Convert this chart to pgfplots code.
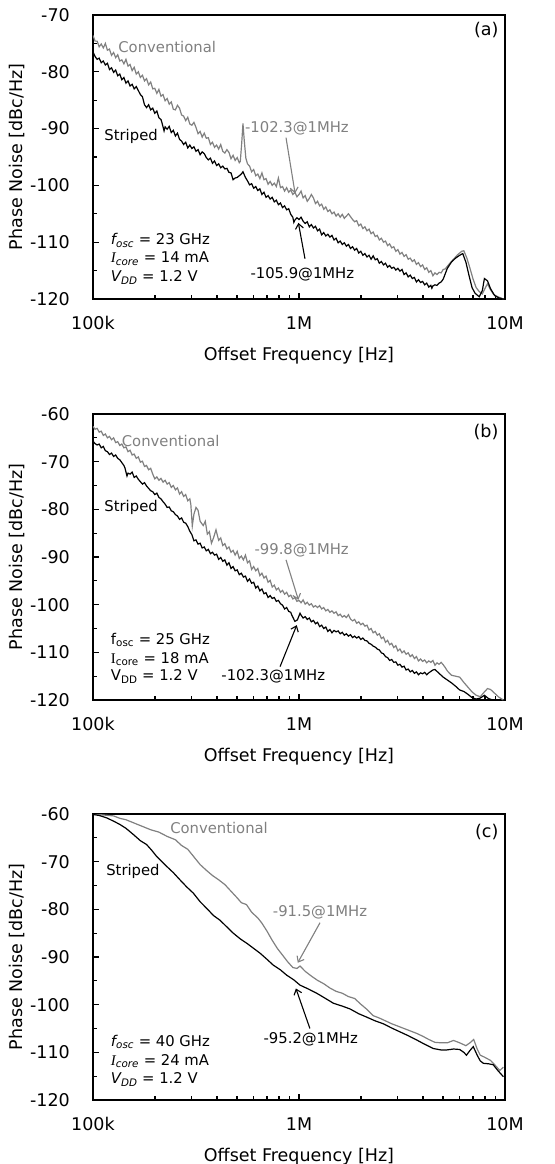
\documentclass[border=0pt]{standalone}
\usepackage{fontspec}
\setmainfont{DejaVu Sans}
\newfontfamily\serifI{Liberation Serif}
\usepackage{pgfplots}
\pgfplotsset{compat=1.18}
\usetikzlibrary{arrows.meta}
\definecolor{cgray}{RGB}{128,128,128}
\newcommand{\lab}{\fontsize{17.5}{21}\selectfont}
\newcommand{\ann}{\fontsize{14.8}{17}\selectfont}
\pgfplotsset{pnaxis/.style={
  scale only axis, width=412pt, xmin=5, xmax=7,
  xtick={5,6,7}, xticklabels={100k,1M,10M},
  minor xtick={5.30103,5.47712,5.60206,5.69897,5.77815,5.84510,5.90309,5.95424,6.30103,6.47712,6.60206,6.69897,6.77815,6.84510,6.90309,6.95424},
  tick align=inside, xtick pos=bottom, ytick pos=left,
  major tick length=6pt, minor tick length=4pt,
  tick style={black, line width=1.2pt},
  axis line style={line width=2.7pt, black},
  every tick label/.append style={font=\lab},
  xticklabel style={anchor=center, yshift=-24pt},
  yticklabel style={anchor=east, inner sep=0pt, xshift=-23pt},
  every axis x label/.style={at={(axis description cs:0.5,0)}, anchor=center, yshift=-57pt, font=\lab},
  every axis y label/.style={at={(axis description cs:-0.1845,0.5)}, rotate=90, anchor=center, font=\lab},
  xlabel={Offset Frequency [Hz]},
  ylabel={Phase Noise [dBc/Hz]},
  conv/.style={cgray, line width=1.2pt},
  strp/.style={black, line width=1.2pt},
}}
\begin{document}
\begin{tikzpicture}
\useasboundingbox (0pt,0pt) rectangle (554pt,-1164pt);
% ---------------- (a)
\begin{axis}[pnaxis, at={(93pt,-299pt)}, anchor=south west, height=284pt,
  ymin=-120, ymax=-70, ytick={-120,-110,-100,-90,-80,-70},
  yticklabels={-120,-110,-100,-90,-80,-70},
  minor ytick={-115,-105,-95,-85,-75}]
\addplot[conv] coordinates {
(5.00,-73.6)(5.01,-74.6)(5.02,-74.6)(5.03,-75.6)(5.04,-75.1)(5.05,-75.8)(5.06,-75.0)(5.07,-76.2)(5.08,-76.0)(5.09,-77.1)
(5.10,-76.6)(5.11,-77.5)(5.12,-77.0)(5.13,-78.1)(5.14,-77.9)(5.15,-78.6)(5.16,-77.8)(5.17,-79.0)(5.18,-78.7)(5.19,-79.8)
(5.20,-79.2)(5.21,-80.4)(5.22,-80.0)(5.23,-81.0)(5.24,-80.6)(5.25,-81.6)(5.26,-81.2)(5.27,-82.3)(5.28,-81.8)(5.29,-83.0)
(5.30,-82.9)(5.31,-83.8)(5.32,-83.1)(5.33,-84.3)(5.34,-84.0)(5.35,-85.1)(5.36,-84.7)(5.37,-85.7)(5.38,-85.3)(5.39,-86.6)
(5.40,-86.7)(5.41,-85.9)(5.42,-86.4)(5.43,-87.6)(5.44,-87.8)(5.45,-88.6)(5.46,-88.0)(5.47,-89.2)(5.48,-89.4)(5.49,-88.9)
(5.50,-89.8)(5.51,-90.9)(5.52,-90.5)(5.53,-91.5)(5.54,-90.8)(5.55,-91.7)(5.56,-91.6)(5.57,-92.8)(5.58,-92.4)(5.59,-93.3)
(5.60,-92.9)(5.61,-93.6)(5.62,-92.8)(5.63,-94.0)(5.64,-94.3)(5.65,-93.7)(5.66,-94.2)(5.67,-95.3)(5.68,-94.7)(5.69,-95.6)
(5.70,-95.1)(5.71,-96.0)(5.715,-95.8)(5.722,-92.5)(5.728,-89.1)(5.734,-92.0)(5.742,-95.2)(5.75,-96.2)(5.76,-96.6)(5.77,-97.6)
(5.78,-97.2)(5.79,-98.3)(5.80,-98.0)(5.81,-98.8)(5.82,-97.8)(5.83,-99.0)(5.84,-98.8)(5.85,-99.8)(5.86,-99.3)(5.87,-100.0)
(5.88,-99.6)(5.89,-100.2)(5.90,-98.7)(5.91,-100.4)(5.92,-100.2)(5.93,-101.0)(5.94,-100.4)(5.95,-101.2)(5.96,-100.8)(5.97,-101.6)
(5.98,-101.2)(5.99,-102.0)(6.00,-101.6)(6.01,-101.0)(6.02,-102.2)(6.03,-101.8)(6.04,-102.8)(6.05,-102.3)(6.06,-101.6)(6.07,-102.2)
(6.08,-103.2)(6.09,-102.8)(6.10,-103.6)(6.11,-103.3)(6.12,-104.2)(6.13,-103.8)(6.14,-104.6)(6.15,-104.3)(6.16,-105.0)(6.17,-104.7)
(6.18,-105.4)(6.19,-105.0)(6.20,-105.6)(6.21,-105.1)(6.22,-105.8)(6.23,-105.4)(6.24,-105.0)(6.25,-105.5)(6.26,-106.0)(6.27,-106.4)
(6.28,-106.2)(6.29,-107.1)(6.30,-106.8)(6.31,-107.6)(6.32,-107.3)(6.33,-108.0)(6.34,-107.7)(6.35,-108.5)(6.36,-108.2)(6.37,-109.0)
(6.38,-108.8)(6.39,-109.6)(6.40,-109.3)(6.41,-110.0)(6.42,-109.8)(6.43,-110.6)(6.44,-110.3)(6.45,-111.0)(6.46,-110.8)(6.47,-111.6)
(6.48,-111.3)(6.49,-112.1)(6.50,-111.8)(6.51,-112.5)(6.52,-112.2)(6.53,-113.0)(6.54,-112.8)(6.55,-113.4)(6.56,-113.1)(6.57,-113.9)
(6.58,-113.6)(6.59,-114.3)(6.60,-114.0)(6.61,-114.8)(6.62,-114.5)(6.63,-115.3)(6.64,-115.0)(6.65,-115.9)(6.66,-115.4)(6.67,-115.7)
(6.68,-115.3)(6.69,-115.4)(6.70,-114.8)(6.71,-114.7)(6.730,-113.8)(6.750,-113.0)(6.770,-112.2)(6.790,-111.6)(6.800,-111.5)(6.815,-112.8)
(6.830,-114.6)(6.845,-116.5)(6.860,-118.0)(6.875,-118.7)(6.890,-119.1)(6.905,-118.0)(6.915,-117.3)(6.930,-118.4)(6.945,-119.2)(6.965,-119.6)
(6.992,-120.0)};
\addplot[strp] coordinates {
(5.00,-76.5)(5.01,-77.3)(5.02,-77.8)(5.03,-77.6)(5.04,-78.4)(5.05,-78.1)(5.06,-78.8)(5.07,-78.5)(5.08,-79.6)(5.09,-79.3)
(5.10,-80.1)(5.11,-79.7)(5.12,-80.7)(5.13,-80.4)(5.14,-81.4)(5.15,-81.0)(5.16,-82.0)(5.17,-81.6)(5.18,-82.5)(5.19,-82.2)
(5.20,-83.0)(5.21,-82.6)(5.22,-83.3)(5.23,-84.0)(5.24,-84.4)(5.25,-85.8)(5.26,-86.3)(5.27,-85.8)(5.28,-86.7)(5.29,-86.4)
(5.30,-87.3)(5.31,-86.9)(5.32,-88.1)(5.33,-88.4)(5.335,-89.0)(5.345,-90.4)(5.35,-89.7)(5.36,-90.1)(5.37,-89.6)(5.38,-90.7)
(5.39,-90.3)(5.40,-91.3)(5.41,-90.8)(5.42,-91.9)(5.43,-92.2)(5.44,-92.8)(5.45,-92.4)(5.46,-93.4)(5.47,-92.9)(5.48,-93.5)
(5.49,-93.2)(5.50,-94.0)(5.51,-93.7)(5.52,-94.6)(5.53,-94.1)(5.54,-94.4)(5.55,-95.1)(5.56,-95.5)(5.57,-95.2)(5.58,-96.1)
(5.59,-95.7)(5.60,-96.5)(5.61,-96.2)(5.62,-96.9)(5.63,-96.6)(5.64,-97.1)(5.65,-97.0)(5.66,-97.7)(5.67,-97.8)(5.68,-99.0)
(5.69,-98.7)(5.70,-98.6)(5.71,-98.3)(5.72,-98.0)(5.728,-97.6)(5.74,-98.6)(5.75,-99.2)(5.76,-99.9)(5.77,-99.7)(5.78,-100.5)
(5.79,-100.2)(5.80,-100.9)(5.81,-100.6)(5.82,-101.6)(5.83,-101.2)(5.84,-102.1)(5.85,-101.8)(5.86,-102.4)(5.87,-102.1)(5.88,-102.9)
(5.89,-102.6)(5.90,-103.4)(5.91,-103.1)(5.92,-103.9)(5.93,-103.6)(5.94,-104.3)(5.95,-104.1)(5.96,-105.1)(5.97,-105.6)(5.975,-106.5)
(5.98,-106.1)(5.99,-105.7)(6.00,-106.0)(6.01,-105.6)(6.02,-106.3)(6.03,-106.7)(6.04,-106.4)(6.05,-107.3)(6.06,-106.9)(6.07,-107.5)
(6.08,-107.2)(6.09,-108.0)(6.10,-107.7)(6.11,-108.7)(6.12,-108.3)(6.13,-108.9)(6.14,-108.6)(6.15,-109.1)(6.16,-108.8)(6.17,-109.6)
(6.18,-109.3)(6.19,-110.1)(6.20,-109.8)(6.21,-110.4)(6.22,-110.1)(6.23,-110.7)(6.24,-110.4)(6.25,-111.1)(6.26,-110.8)(6.27,-111.4)
(6.28,-111.1)(6.29,-111.9)(6.30,-111.6)(6.31,-112.3)(6.32,-112.0)(6.33,-112.6)(6.34,-112.3)(6.35,-113.0)(6.36,-112.4)(6.37,-113.1)
(6.38,-112.9)(6.39,-113.7)(6.40,-113.4)(6.41,-114.0)(6.42,-113.7)(6.43,-114.4)(6.44,-114.1)(6.45,-114.6)(6.46,-114.4)(6.47,-114.9)
(6.48,-114.6)(6.49,-115.1)(6.50,-114.8)(6.51,-115.7)(6.52,-115.4)(6.53,-116.1)(6.54,-115.8)(6.55,-116.4)(6.56,-116.2)(6.57,-117.0)
(6.58,-116.6)(6.59,-117.1)(6.60,-116.9)(6.61,-117.5)(6.62,-117.2)(6.63,-117.9)(6.64,-117.6)(6.645,-118.1)(6.65,-117.7)(6.66,-117.5)
(6.67,-117.6)(6.68,-117.2)(6.69,-117.0)(6.700,-116.5)(6.720,-114.6)(6.740,-113.5)(6.760,-112.8)(6.780,-112.3)(6.795,-112.0)(6.810,-113.5)
(6.825,-115.8)(6.840,-118.0)(6.855,-119.0)(6.875,-119.6)(6.890,-118.5)(6.900,-116.4)(6.915,-116.8)(6.930,-118.2)(6.950,-119.4)(6.970,-119.8)
(6.990,-120.0)};
\node[cgray, font=\ann] at (axis cs:5.36,-75.6) {Conventional};
\node[black, font=\ann] at (axis cs:5.185,-91.4) {Striped};
\node[cgray, font=\ann] at (axis cs:5.99,-90.0) {-102.3@1MHz};
\node[black, font=\ann] at (axis cs:6.016,-115.6) {-105.9@1MHz};
\draw[cgray, line width=1.1pt, -{Straight Barb[length=5pt,width=8pt]}] (axis cs:5.937,-91.6) -- (axis cs:5.981,-101.4);
\draw[black, line width=1.1pt, -{Straight Barb[length=5pt,width=8pt]}] (axis cs:6.029,-112.9) -- (axis cs:5.997,-106.6);
\node[anchor=east, font=\lab] at (axis cs:6.985,-72.6) {(a)};
\node[anchor=west, font=\ann] at (axis cs:5.07,-109.7) {\textit{f\textsubscript{osc}} = 23 GHz};
\node[anchor=west, font=\ann] at (axis cs:5.07,-112.9) {{\serifI\itshape I}\textsubscript{\textit{core}} = 14 mA};
\node[anchor=west, font=\ann] at (axis cs:5.07,-116.2) {\textit{V\textsubscript{DD}} = 1.2 V};
\end{axis}
% ---------------- (b)
\begin{axis}[pnaxis, at={(93pt,-700pt)}, anchor=south west, height=286pt,
  ymin=-120, ymax=-60, ytick={-120,-110,-100,-90,-80,-70,-60},
  yticklabels={-120,-110,-100,-90,-80,-70,-60},
  minor ytick={-115,-105,-95,-85,-75,-65}]
\addplot[conv] coordinates {
(5.00,-62.6)(5.01,-63.2)(5.02,-63.0)(5.03,-63.8)(5.04,-63.6)(5.05,-64.5)(5.06,-64.2)(5.07,-65.0)(5.08,-64.7)(5.09,-65.4)
(5.10,-65.0)(5.11,-66.0)(5.12,-65.8)(5.13,-66.6)(5.14,-66.3)(5.15,-67.1)(5.16,-66.9)(5.17,-67.9)(5.18,-67.6)(5.19,-68.6)
(5.20,-68.4)(5.21,-69.3)(5.22,-69.0)(5.23,-70.1)(5.24,-69.9)(5.25,-71.0)(5.26,-70.8)(5.27,-71.7)(5.28,-71.4)(5.29,-72.6)
(5.30,-73.6)(5.31,-73.2)(5.32,-73.9)(5.33,-73.5)(5.34,-74.3)(5.35,-73.9)(5.36,-74.7)(5.37,-74.4)(5.38,-75.4)(5.39,-75.0)
(5.40,-75.9)(5.41,-75.5)(5.42,-76.8)(5.43,-76.3)(5.44,-77.3)(5.45,-76.9)(5.46,-78.2)(5.47,-77.8)(5.475,-79.0)(5.482,-83.5)
(5.49,-81.0)(5.50,-79.6)(5.51,-80.2)(5.52,-82.5)(5.535,-83.4)(5.545,-82.5)(5.555,-85.2)(5.565,-84.7)(5.575,-87.1)(5.585,-86.0)
(5.597,-84.3)(5.61,-86.5)(5.62,-86.0)(5.63,-87.6)(5.64,-87.2)(5.65,-88.3)(5.66,-87.9)(5.67,-89.0)(5.68,-88.6)(5.69,-89.6)
(5.70,-88.8)(5.71,-90.3)(5.72,-89.8)(5.73,-90.6)(5.74,-89.6)(5.75,-91.2)(5.76,-90.8)(5.77,-92.6)(5.78,-92.0)(5.79,-92.9)
(5.80,-92.4)(5.81,-93.9)(5.82,-93.4)(5.83,-94.4)(5.84,-94.0)(5.85,-95.3)(5.86,-94.9)(5.87,-96.3)(5.88,-95.9)(5.89,-96.9)
(5.90,-96.5)(5.91,-97.4)(5.92,-97.0)(5.93,-97.8)(5.94,-97.4)(5.95,-98.3)(5.96,-98.0)(5.97,-98.8)(5.98,-98.5)(5.99,-99.3)
(6.00,-99.1)(6.01,-99.6)(6.02,-99.0)(6.03,-99.9)(6.04,-99.5)(6.05,-100.1)(6.06,-99.8)(6.07,-100.5)(6.08,-100.2)(6.09,-100.6)
(6.10,-100.2)(6.11,-100.9)(6.12,-100.6)(6.13,-101.3)(6.14,-101.0)(6.15,-101.6)(6.16,-101.3)(6.17,-101.8)(6.18,-101.5)(6.19,-102.3)
(6.20,-102.0)(6.21,-102.6)(6.22,-102.3)(6.23,-102.7)(6.24,-102.1)(6.25,-103.0)(6.26,-103.4)(6.27,-103.1)(6.28,-103.9)(6.29,-103.6)
(6.30,-104.2)(6.31,-103.9)(6.32,-104.5)(6.33,-104.3)(6.34,-105.3)(6.35,-105.0)(6.36,-105.9)(6.37,-105.6)(6.38,-106.4)(6.39,-106.1)
(6.40,-107.1)(6.41,-106.8)(6.42,-107.9)(6.43,-107.5)(6.44,-108.4)(6.45,-108.1)(6.46,-109.0)(6.47,-108.6)(6.48,-109.7)(6.49,-109.3)
(6.50,-110.1)(6.51,-109.7)(6.52,-110.4)(6.53,-110.1)(6.54,-110.9)(6.55,-110.5)(6.56,-111.3)(6.57,-110.9)(6.58,-111.8)(6.59,-111.4)
(6.60,-111.9)(6.61,-111.6)(6.62,-112.2)(6.63,-111.8)(6.64,-112.1)(6.65,-111.7)(6.66,-112.7)(6.67,-112.2)(6.68,-112.5)(6.69,-112.1)
(6.70,-112.6)(6.71,-113.2)(6.72,-113.9)(6.740,-114.8)(6.760,-115.0)(6.780,-115.2)(6.800,-116.3)(6.820,-117.3)(6.840,-118.3)(6.860,-119.0)
(6.880,-119.3)(6.900,-118.3)(6.915,-117.6)(6.930,-117.8)(6.950,-118.6)(6.970,-119.4)(6.992,-120.0)};
\addplot[strp] coordinates {
(5.00,-65.7)(5.01,-66.2)(5.02,-66.5)(5.03,-66.3)(5.04,-67.1)(5.05,-66.8)(5.06,-67.7)(5.07,-67.9)(5.08,-68.5)(5.09,-68.2)
(5.10,-68.9)(5.11,-68.6)(5.12,-69.3)(5.13,-69.6)(5.14,-70.2)(5.15,-70.8)(5.155,-71.3)(5.165,-73.0)(5.17,-72.4)(5.18,-72.6)
(5.19,-72.2)(5.20,-73.3)(5.21,-73.0)(5.22,-73.7)(5.23,-74.2)(5.24,-74.7)(5.25,-74.4)(5.26,-75.1)(5.27,-75.6)(5.28,-76.1)
(5.29,-76.3)(5.30,-76.9)(5.31,-76.6)(5.32,-77.5)(5.33,-77.8)(5.34,-78.4)(5.35,-78.9)(5.36,-79.6)(5.37,-79.5)(5.38,-80.3)
(5.39,-80.5)(5.40,-81.1)(5.41,-81.4)(5.42,-82.1)(5.43,-81.8)(5.44,-82.7)(5.45,-82.9)(5.46,-83.6)(5.47,-84.6)(5.48,-85.3)
(5.49,-86.6)(5.50,-86.4)(5.51,-87.3)(5.52,-87.1)(5.53,-88.1)(5.54,-87.9)(5.55,-88.7)(5.56,-88.4)(5.57,-89.3)(5.58,-89.0)
(5.59,-89.6)(5.60,-89.4)(5.61,-90.5)(5.62,-90.1)(5.63,-90.9)(5.64,-90.6)(5.65,-91.7)(5.66,-91.2)(5.67,-92.4)(5.68,-92.0)
(5.69,-92.9)(5.70,-92.7)(5.71,-93.7)(5.72,-93.4)(5.73,-94.2)(5.74,-94.0)(5.75,-95.1)(5.76,-94.6)(5.77,-95.5)(5.78,-95.3)
(5.79,-96.5)(5.80,-96.1)(5.81,-97.1)(5.82,-96.7)(5.83,-97.7)(5.84,-97.5)(5.85,-98.5)(5.86,-98.1)(5.87,-98.7)(5.88,-98.5)
(5.89,-99.3)(5.90,-99.1)(5.91,-99.8)(5.92,-100.1)(5.93,-100.9)(5.94,-100.6)(5.95,-101.4)(5.96,-101.6)(5.965,-102.2)(5.98,-103.5)
(5.992,-103.2)(6.005,-101.8)(6.01,-102.2)(6.02,-102.8)(6.03,-102.5)(6.04,-103.1)(6.05,-102.8)(6.06,-103.6)(6.07,-103.3)(6.08,-104.0)
(6.09,-103.7)(6.10,-104.6)(6.11,-104.3)(6.12,-105.0)(6.13,-104.7)(6.14,-105.6)(6.15,-105.2)(6.16,-105.9)(6.17,-105.4)(6.18,-105.7)
(6.19,-105.5)(6.20,-106.1)(6.21,-105.8)(6.22,-106.4)(6.23,-106.1)(6.24,-106.6)(6.25,-106.3)(6.26,-106.9)(6.27,-106.6)(6.28,-107.0)
(6.29,-106.7)(6.30,-107.3)(6.31,-107.0)(6.32,-107.5)(6.33,-107.6)(6.34,-108.1)(6.35,-108.3)(6.36,-108.7)(6.37,-108.9)(6.38,-109.3)
(6.39,-109.5)(6.40,-110.1)(6.41,-110.3)(6.42,-110.9)(6.43,-111.1)(6.44,-111.7)(6.45,-111.5)(6.46,-112.1)(6.47,-112.0)(6.48,-112.7)
(6.49,-112.5)(6.50,-113.1)(6.51,-112.9)(6.52,-113.7)(6.53,-113.5)(6.54,-114.1)(6.55,-113.8)(6.56,-114.4)(6.57,-114.1)(6.58,-114.7)
(6.59,-114.3)(6.60,-114.5)(6.61,-114.2)(6.62,-114.7)(6.63,-114.3)(6.64,-114.0)(6.65,-113.7)(6.66,-113.6)(6.67,-114.0)(6.68,-114.4)
(6.700,-115.2)(6.720,-115.8)(6.740,-116.4)(6.760,-117.1)(6.780,-117.9)(6.800,-118.2)(6.820,-118.8)(6.840,-119.5)(6.860,-119.8)(6.880,-119.6)
(6.900,-119.0)(6.920,-119.7)(6.940,-120.0)};
\node[cgray, font=\ann] at (axis cs:5.377,-65.6) {Conventional};
\node[black, font=\ann] at (axis cs:5.185,-79.7) {Striped};
\node[cgray, font=\ann] at (axis cs:6.013,-88.5) {-99.8@1MHz};
\node[black, font=\ann] at (axis cs:5.875,-115.0) {-102.3@1MHz};
\draw[cgray, line width=1.1pt, -{Straight Barb[length=5pt,width=8pt]}] (axis cs:5.937,-90.6) -- (axis cs:5.997,-99.0);
\draw[black, line width=1.1pt, -{Straight Barb[length=5pt,width=8pt]}] (axis cs:5.908,-113.0) -- (axis cs:5.989,-104.3);
\node[anchor=east, font=\lab] at (axis cs:6.985,-63.7) {(b)};
\node[anchor=west, font=\ann] at (axis cs:5.07,-107.4) {f\textsubscript{osc} = 25 GHz};
\node[anchor=west, font=\ann] at (axis cs:5.07,-111.5) {{\serifI I}\textsubscript{core} = 18 mA};
\node[anchor=west, font=\ann] at (axis cs:5.07,-115.1) {V\textsubscript{DD} = 1.2 V};
\end{axis}
% ---------------- (c)
\begin{axis}[pnaxis, at={(93pt,-1100pt)}, anchor=south west, height=286pt,
  ymin=-120, ymax=-60, ytick={-120,-110,-100,-90,-80,-70,-60},
  yticklabels={-120,-110,-100,-90,-80,-70,-60},
  minor ytick={-115,-105,-95,-85,-75,-65}]
\addplot[conv] coordinates {
(5.000,-60.0)(5.050,-60.2)(5.100,-60.4)(5.130,-60.9)(5.160,-61.2)(5.200,-61.9)(5.240,-62.6)(5.280,-63.3)(5.320,-63.8)(5.360,-64.7)
(5.400,-65.4)(5.430,-66.6)(5.460,-67.4)(5.490,-69.0)(5.520,-70.6)(5.550,-71.8)(5.580,-72.9)(5.610,-73.8)(5.640,-74.8)(5.670,-76.2)
(5.700,-77.6)(5.720,-78.6)(5.745,-79.0)(5.770,-80.6)(5.800,-81.8)(5.820,-82.9)(5.845,-84.6)(5.870,-86.5)(5.895,-88.2)(5.920,-89.6)
(5.945,-91.0)(5.970,-92.2)(5.990,-92.4)(6.005,-91.9)(6.030,-93.0)(6.060,-94.0)(6.090,-94.9)(6.120,-95.6)(6.150,-96.5)(6.180,-97.2)
(6.210,-97.6)(6.240,-98.3)(6.270,-98.7)(6.300,-99.9)(6.330,-101.0)(6.360,-102.3)(6.390,-102.8)(6.420,-103.4)(6.450,-104.0)(6.480,-104.5)
(6.510,-105.0)(6.540,-105.5)(6.570,-106.0)(6.600,-106.6)(6.630,-107.3)(6.660,-107.9)(6.690,-108.0)(6.720,-108.0)(6.750,-107.5)(6.780,-108.0)
(6.810,-108.6)(6.830,-108.0)(6.848,-107.3)(6.865,-109.3)(6.880,-110.6)(6.900,-111.0)(6.930,-111.7)(6.950,-112.6)(6.975,-113.8)(6.992,-113.1)};
\addplot[strp] coordinates {
(5.000,-60.1)(5.030,-60.3)(5.066,-60.8)(5.100,-61.5)(5.131,-62.2)(5.160,-63.0)(5.196,-64.3)(5.230,-65.6)(5.260,-66.4)(5.285,-67.6)
(5.309,-68.9)(5.335,-70.0)(5.358,-71.0)(5.390,-72.3)(5.422,-73.8)(5.455,-75.3)(5.487,-76.6)(5.520,-78.4)(5.552,-79.8)(5.585,-81.3)
(5.617,-82.3)(5.650,-83.7)(5.681,-85.0)(5.715,-86.2)(5.746,-87.1)(5.780,-88.2)(5.811,-89.2)(5.845,-90.5)(5.875,-91.7)(5.910,-92.7)
(5.940,-93.8)(5.975,-94.8)(6.005,-95.9)(6.045,-96.7)(6.086,-97.6)(6.125,-98.6)(6.167,-99.7)(6.210,-100.3)(6.248,-100.9)(6.290,-101.9)
(6.328,-102.6)(6.370,-103.4)(6.409,-104.0)(6.450,-104.9)(6.490,-105.7)(6.530,-106.5)(6.571,-107.4)(6.610,-108.3)(6.652,-109.2)(6.690,-109.5)
(6.717,-109.5)(6.750,-109.3)(6.780,-109.4)(6.800,-110.0)(6.813,-110.6)(6.830,-109.6)(6.846,-108.8)(6.865,-110.6)(6.880,-111.8)(6.895,-112.3)
(6.920,-112.4)(6.943,-112.6)(6.965,-113.8)(6.992,-115.1)};
\node[cgray, font=\ann] at (axis cs:5.612,-62.9) {Conventional};
\node[black, font=\ann] at (axis cs:5.194,-72.0) {Striped};
\node[cgray, font=\ann] at (axis cs:6.102,-80.7) {-91.5@1MHz};
\node[black, font=\ann] at (axis cs:6.057,-107.3) {-95.2@1MHz};
\draw[cgray, line width=1.1pt, -{Straight Barb[length=5pt,width=8pt]}] (axis cs:6.102,-82.8) -- (axis cs:5.994,-91.2);
\draw[black, line width=1.1pt, -{Straight Barb[length=5pt,width=8pt]}] (axis cs:6.053,-105.0) -- (axis cs:5.985,-96.6);
\node[anchor=east, font=\lab] at (axis cs:6.985,-63.7) {(c)};
\node[anchor=west, font=\ann] at (axis cs:5.07,-107.8) {\textit{f\textsubscript{osc}} = 40 GHz};
\node[anchor=west, font=\ann] at (axis cs:5.07,-111.8) {{\serifI\itshape I}\textsubscript{\textit{core}} = 24 mA};
\node[anchor=west, font=\ann] at (axis cs:5.07,-115.7) {\textit{V\textsubscript{DD}} = 1.2 V};
\end{axis}
\end{tikzpicture}
\end{document}
